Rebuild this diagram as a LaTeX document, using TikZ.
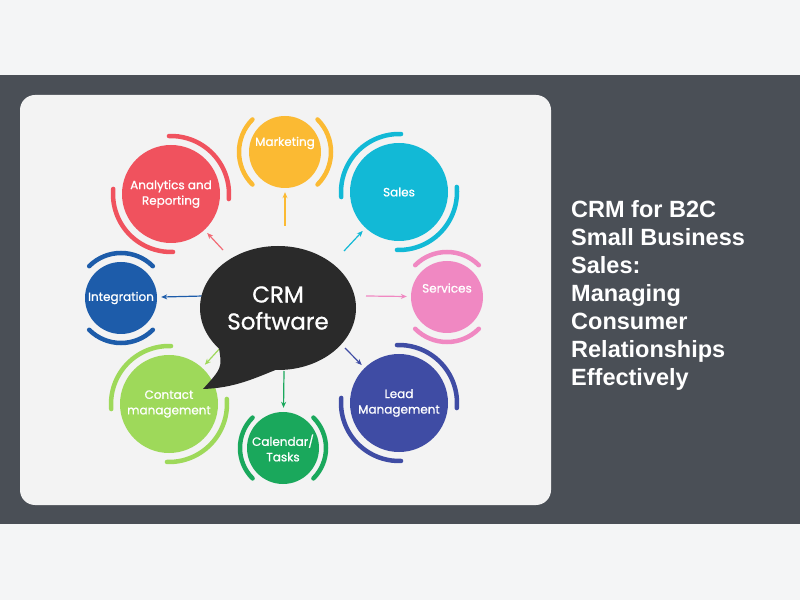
\documentclass[tikz,border=0pt]{standalone}
\usepackage{fontspec}
\setmainfont{Liberation Sans}
\newfontfamily\lblfont{Poppins}[FakeBold=0.9]
\usetikzlibrary{shapes.geometric,arrows.meta}
\definecolor{pagebg}{HTML}{F4F5F6}
\definecolor{band}{HTML}{4A4F56}
\definecolor{panel}{HTML}{F3F3F3}
\definecolor{cMkt}{HTML}{FBBA33}
\definecolor{cAna}{HTML}{F0525E}
\definecolor{cSal}{HTML}{12B9D6}
\definecolor{cSer}{HTML}{F088C2}
\definecolor{cInt}{HTML}{1D5CAA}
\definecolor{cLea}{HTML}{3F4CA4}
\definecolor{cCal}{HTML}{1AA85C}
\definecolor{cCon}{HTML}{9ED95A}
\definecolor{cCrm}{HTML}{2A2A2A}
\begin{document}
\begin{tikzpicture}[x=1pt,y=1pt,
  bigc/.style={circle,minimum size=98pt,inner sep=0pt,text=white,align=center,font=\lblfont\fontsize{12}{15.5}\selectfont},
  smallc/.style={circle,minimum size=72pt,inner sep=0pt,text=white,align=center,font=\lblfont\fontsize{12}{15.5}\selectfont},
  lbl/.style={text=white,font=\lblfont\fontsize{12}{15.5}\selectfont,align=center,inner sep=0pt},
  ring/.style={line width=4.5pt,line cap=round},
  conn/.style={line width=1.2pt,-{Stealth[length=6pt,width=5pt]},shorten >=4pt},
  title/.style={text=white,font=\bfseries\fontsize{23.5}{28}\selectfont,anchor=base west,inner sep=0pt}
]
\useasboundingbox (0,0) rectangle (800,600);
\fill[pagebg] (0,0) rectangle (800,600);
\fill[band] (0,76) rectangle (800,525);
\fill[panel,rounded corners=15pt] (20,95) rectangle (551,505);

% satellite circles
\node[smallc,fill=cMkt] (mkt) at (285,448) {};
\node[lbl] (mktl) at (285,457) {Marketing};
\node[bigc,fill=cAna] (ana) at (171,406) {Analytics and\\Reporting};
\node[bigc,fill=cSal] (sal) at (399,408) {Sales};
\node[smallc,fill=cSer] (ser) at (447,303) {};
\node[lbl] (serl) at (447,312) {Services};
\node[smallc,fill=cInt] (int) at (121,302) {Integration};
\node[bigc,fill=cCon] (con) at (169,196) {Contact\\management};
\node[smallc,fill=cCal] (cal) at (283,152) {Calendar/\\Tasks};
\node[bigc,fill=cLea] (lea) at (399,197) {Lead\\Management};

% rings
\draw[ring,cMkt] (mkt.center) ++(135:46) arc[start angle=135,end angle=225,radius=46];
\draw[ring,cMkt] (mkt.center) ++(-45:46) arc[start angle=-45,end angle=45,radius=46];
\draw[ring,cAna] (ana.center) ++(-5:58) arc[start angle=-5,end angle=92,radius=58];
\draw[ring,cAna] (ana.center) ++(175:58) arc[start angle=175,end angle=272,radius=58];
\draw[ring,cSal] (sal.center) ++(88:58) arc[start angle=88,end angle=185,radius=58];
\draw[ring,cSal] (sal.center) ++(-92:58) arc[start angle=-92,end angle=5,radius=58];
\draw[ring,cSer] (ser.center) ++(45:45) arc[start angle=45,end angle=135,radius=45];
\draw[ring,cSer] (ser.center) ++(225:45) arc[start angle=225,end angle=315,radius=45];
\draw[ring,cInt] (int.center) ++(45:45) arc[start angle=45,end angle=135,radius=45];
\draw[ring,cInt] (int.center) ++(225:45) arc[start angle=225,end angle=315,radius=45];
\draw[ring,cCon] (con.center) ++(88:58) arc[start angle=88,end angle=185,radius=58];
\draw[ring,cCon] (con.center) ++(-92:58) arc[start angle=-92,end angle=5,radius=58];
\draw[ring,cCal] (cal.center) ++(135:43) arc[start angle=135,end angle=225,radius=43];
\draw[ring,cCal] (cal.center) ++(-45:43) arc[start angle=-45,end angle=45,radius=43];
\draw[ring,cLea] (lea.center) ++(-5:58) arc[start angle=-5,end angle=92,radius=58];
\draw[ring,cLea] (lea.center) ++(175:58) arc[start angle=175,end angle=272,radius=58];

% connector tails
\coordinate (tMkt) at (285,374);
\coordinate (tAna) at (223,350);
\coordinate (tSal) at (344,349);
\coordinate (tSer) at (366,304);
\coordinate (tInt) at (203,304);
\coordinate (tLea) at (345,252);
\coordinate (tCal) at (284,229);
\coordinate (tCon) at (222,254);

\draw[conn,cMkt] (tMkt) -- (mkt);
\draw[conn,cAna!85!white] (tAna) -- (ana);
\draw[conn,cSal] (tSal) -- (sal);
\draw[conn,cSer] (tSer) -- (ser);
\draw[conn,cInt] (tInt) -- (int);
\draw[conn,cLea] (tLea) -- (lea);
\draw[conn,cCal] (tCal) -- (cal);
\draw[conn,cCon] (tCon) -- (con);

% CRM speech bubble
\node[ellipse,fill=cCrm,minimum width=156pt,minimum height=124pt,inner sep=0pt] (crm) at (278,292) {};
\fill[cCrm] (219,252) .. controls (222,232) .. (203,211) .. controls (235,212) and (255,222) .. (278,231) -- (262,262) -- cycle;
\node[text=white,font=\lblfont\fontsize{23}{27}\selectfont,align=center,inner sep=0pt] (crml) at (278,292) {CRM\\Software};

% title
\node[title] (t1) at (571,382) {CRM for B2C};
\node[title] (t2) at (571,354) {Small Business};
\node[title] (t3) at (571,326) {Sales:};
\node[title] (t4) at (571,298) {Managing};
\node[title] (t5) at (571,270) {Consumer};
\node[title] (t6) at (571,242) {Relationships};
\node[title] (t7) at (571,214) {Effectively};
\end{tikzpicture}
\end{document}
